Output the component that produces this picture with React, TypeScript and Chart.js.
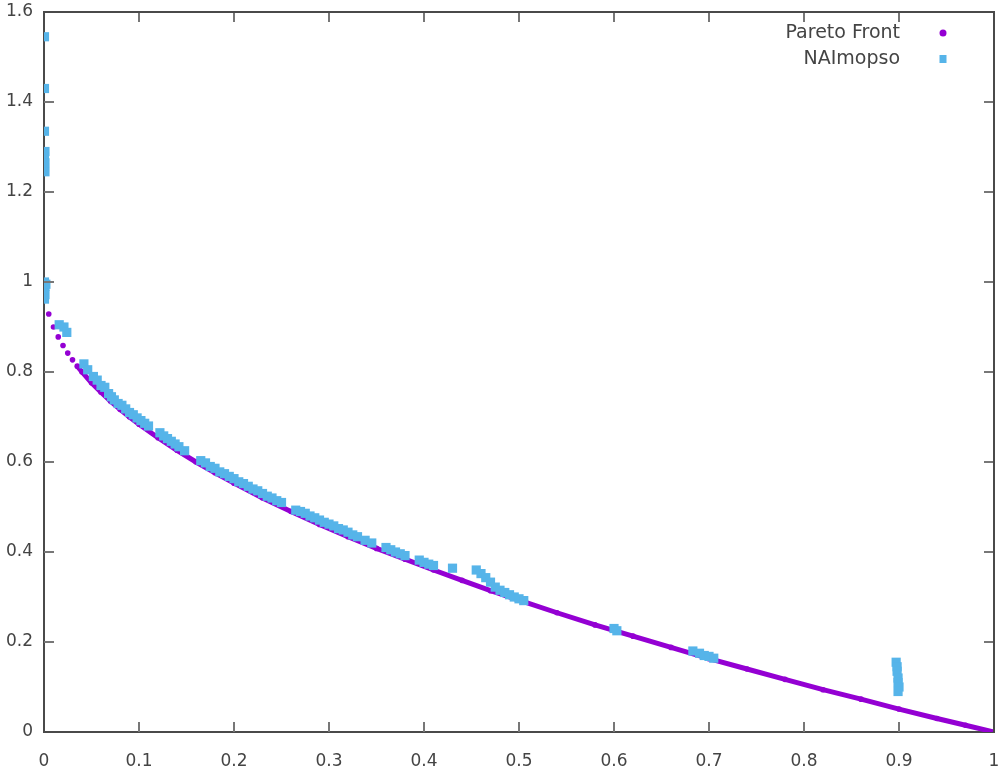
import React, { useEffect, useRef } from "react";
import { Chart, registerables } from "chart.js";

Chart.register(...registerables);

const PARETO_X = [0.005, 0.01, 0.015, 0.02, 0.025, 0.03, 0.035, 0.04, 0.05, 0.06, 0.07, 0.08, 0.09, 0.1, 0.12, 0.14, 0.16, 0.18, 0.2, 0.23, 0.26, 0.29, 0.32, 0.35, 0.38, 0.41, 0.44, 0.47, 0.5, 0.54, 0.58, 0.62, 0.66, 0.7, 0.74, 0.78, 0.82, 0.86, 0.9, 0.94, 0.97, 1.0];
const PARETO_Y = [0.929, 0.9, 0.878, 0.859, 0.842, 0.827, 0.813, 0.8, 0.776, 0.755, 0.735, 0.717, 0.7, 0.684, 0.654, 0.626, 0.6, 0.576, 0.553, 0.52, 0.49, 0.461, 0.434, 0.408, 0.384, 0.36, 0.337, 0.314, 0.293, 0.265, 0.238, 0.213, 0.188, 0.163, 0.14, 0.117, 0.094, 0.073, 0.051, 0.03, 0.015, 0.0];

const NAI_X = [
  0.0005, 0.0005, 0.0005, 0.001, 0.0005, 0.001, 0.0005, 0.001,
  0.0005, 0.001, 0.0005, 0.001, 0.0005, 0.002,
  0.016, 0.021, 0.024,
  0.042, 0.046, 0.052, 0.056, 0.06, 0.064, 0.068, 0.071, 0.074, 0.078, 0.082, 0.086, 0.09, 0.094, 0.098, 0.102, 0.106, 0.11,
  0.122, 0.126, 0.13, 0.134, 0.138, 0.142, 0.148,
  0.165, 0.17, 0.175, 0.18, 0.185, 0.19, 0.195, 0.2, 0.205, 0.21, 0.215, 0.22, 0.225, 0.23, 0.235, 0.24, 0.245, 0.25,
  0.265, 0.27, 0.275, 0.28, 0.285, 0.29, 0.295, 0.3, 0.305, 0.31, 0.315, 0.32, 0.325, 0.33,
  0.338, 0.345,
  0.36, 0.365, 0.37, 0.375, 0.38,
  0.395, 0.4, 0.405, 0.41,
  0.43,
  0.455, 0.46, 0.465, 0.47, 0.475, 0.48, 0.485, 0.49, 0.495, 0.5, 0.505,
  0.6, 0.603,
  0.683, 0.69, 0.695, 0.7, 0.705,
  0.897, 0.898, 0.898, 0.899, 0.899, 0.9, 0.899,
];
const NAI_Y = [
  1.545, 1.43, 1.335, 1.29, 1.278, 1.265, 1.255, 1.245,
  1.0, 0.99, 0.982, 0.972, 0.962, 0.995,
  0.905, 0.9, 0.888,
  0.818, 0.805, 0.79, 0.782, 0.77, 0.766, 0.752, 0.745, 0.738, 0.73, 0.726, 0.718, 0.71, 0.705, 0.698, 0.692, 0.686, 0.68,
  0.665, 0.658, 0.652, 0.646, 0.64, 0.634, 0.625,
  0.603, 0.598, 0.59, 0.586, 0.578, 0.574, 0.568, 0.563, 0.556, 0.552, 0.546, 0.54, 0.536, 0.53, 0.524, 0.52, 0.514, 0.51,
  0.493, 0.49, 0.486, 0.48, 0.476, 0.471, 0.466, 0.462, 0.458, 0.452, 0.449, 0.444, 0.438, 0.434,
  0.426, 0.42,
  0.41, 0.405, 0.4, 0.396, 0.392,
  0.382, 0.377, 0.373, 0.37,
  0.364,
  0.36, 0.352, 0.343, 0.333, 0.322, 0.315, 0.31, 0.305, 0.3, 0.296, 0.292,
  0.23, 0.225,
  0.18, 0.175, 0.17, 0.168, 0.164,
  0.155, 0.145, 0.135, 0.12, 0.11, 0.1, 0.09,
];

const X_MIN = 0, X_MAX = 1, X_STEP = 0.1;
const Y_MIN = 0, Y_MAX = 1.6, Y_STEP = 0.2;
const SERIES_NAMES = ["Pareto Front", "NAImopso"];
const PURPLE = "#9400D3";
const BLUE = "#56B4E9";
const AXIS = "#4a4a4a";
const TEXT = "#444444";
const FONT = "DejaVu Sans";

const fmt = (v: number) => String(Math.round(v * 10) / 10);

const framePlugin = {
  id: "frame",
  afterDatasetsDraw(chart: any) {
    const { ctx, chartArea, scales } = chart;
    const { left, right, top, bottom } = chartArea;
    ctx.save();
    ctx.strokeStyle = "#777";
    ctx.lineWidth = 2;
    const TL = 10;
    scales.x.ticks.forEach((t: any) => {
      const px = Math.round(scales.x.getPixelForValue(t.value));
      if (Math.abs(px - left) < 2 || Math.abs(px - right) < 2) return;
      ctx.beginPath();
      ctx.moveTo(px, bottom);
      ctx.lineTo(px, bottom - TL);
      ctx.moveTo(px, top);
      ctx.lineTo(px, top + TL);
      ctx.stroke();
    });
    scales.y.ticks.forEach((t: any) => {
      const py = Math.round(scales.y.getPixelForValue(t.value));
      if (Math.abs(py - top) < 2 || Math.abs(py - bottom) < 2) return;
      ctx.beginPath();
      ctx.moveTo(left, py);
      ctx.lineTo(left + TL, py);
      ctx.moveTo(right, py);
      ctx.lineTo(right - TL, py);
      ctx.stroke();
    });
    ctx.strokeStyle = AXIS;
    ctx.lineWidth = 2;
    ctx.beginPath();
    ctx.moveTo(left, top);
    ctx.lineTo(right, top);
    ctx.lineTo(right, bottom);
    ctx.stroke();

    // legend
    ctx.font = `19px ${FONT}`;
    ctx.fillStyle = TEXT;
    ctx.textAlign = "right";
    ctx.textBaseline = "middle";
    const lx = 900;
    const mx = 943;
    const rows = [33, 59];
    ctx.fillText(SERIES_NAMES[0], lx, rows[0]);
    ctx.fillText(SERIES_NAMES[1], lx, rows[1]);
    ctx.fillStyle = PURPLE;
    ctx.beginPath();
    ctx.arc(mx, rows[0], 3.5, 0, Math.PI * 2);
    ctx.fill();
    ctx.fillStyle = BLUE;
    ctx.fillRect(mx - 3.5, rows[1] - 4, 7, 8);
    ctx.restore();
  },
};

export default function App() {
  const ref = useRef<HTMLCanvasElement | null>(null);
  useEffect(() => {
    if (!ref.current) return;
    const chart = new Chart(ref.current, {
      type: "scatter",
      data: {
        datasets: [
          {
            label: SERIES_NAMES[1],
            data: NAI_X.map((x, i) => ({ x, y: NAI_Y[i] })),
            backgroundColor: BLUE,
            borderWidth: 0,
            pointStyle: "rect",
            pointRadius: 6.5,
            order: 1,
          },
          {
            label: SERIES_NAMES[0],
            data: PARETO_X.map((x, i) => ({ x, y: PARETO_Y[i] })),
            backgroundColor: PURPLE,
            borderColor: PURPLE,
            borderWidth: 5,
            pointBorderWidth: 0,
            pointRadius: 2.8,
            showLine: true,
            segment: {
              borderColor: (c: any) => (c.p0.parsed.x < 0.033 ? "rgba(0,0,0,0)" : PURPLE),
            } as any,
            order: 2,
          } as any,
        ],
      },
      options: {
        animation: false,
        responsive: true,
        maintainAspectRatio: false,
        layout: { padding: { top: 12, right: 10, left: 0, bottom: 0 } },
        plugins: { legend: { display: false }, tooltip: { enabled: false } },
        scales: {
          x: {
            type: "linear",
            min: X_MIN,
            max: X_MAX,
            afterFit: (s: any) => { s.height = 37; s.paddingLeft = 0; s.paddingRight = 0; },
            ticks: { stepSize: X_STEP, callback: (v: any) => fmt(v), color: TEXT, font: { family: FONT, size: 17 }, padding: 19, maxRotation: 0 },
            grid: { drawOnChartArea: false, drawTicks: false },
            border: { display: true, color: AXIS, width: 2 },
          },
          y: {
            type: "linear",
            min: Y_MIN,
            max: Y_MAX,
            afterFit: (s: any) => { s.width = 44; s.paddingTop = 0; s.paddingBottom = 0; },
            ticks: { stepSize: Y_STEP, callback: (v: any) => fmt(v), color: TEXT, font: { family: FONT, size: 17 }, padding: 11 },
            grid: { drawOnChartArea: false, drawTicks: false },
            border: { display: true, color: AXIS, width: 2 },
          },
        },
      },
      plugins: [framePlugin],
    });
    return () => chart.destroy();
  }, []);
  return (
    <div style={{ position: "absolute", left: 0, top: 0, width: 1004, height: 769, background: "#fff" }}>
      <canvas ref={ref} />
    </div>
  );
}
